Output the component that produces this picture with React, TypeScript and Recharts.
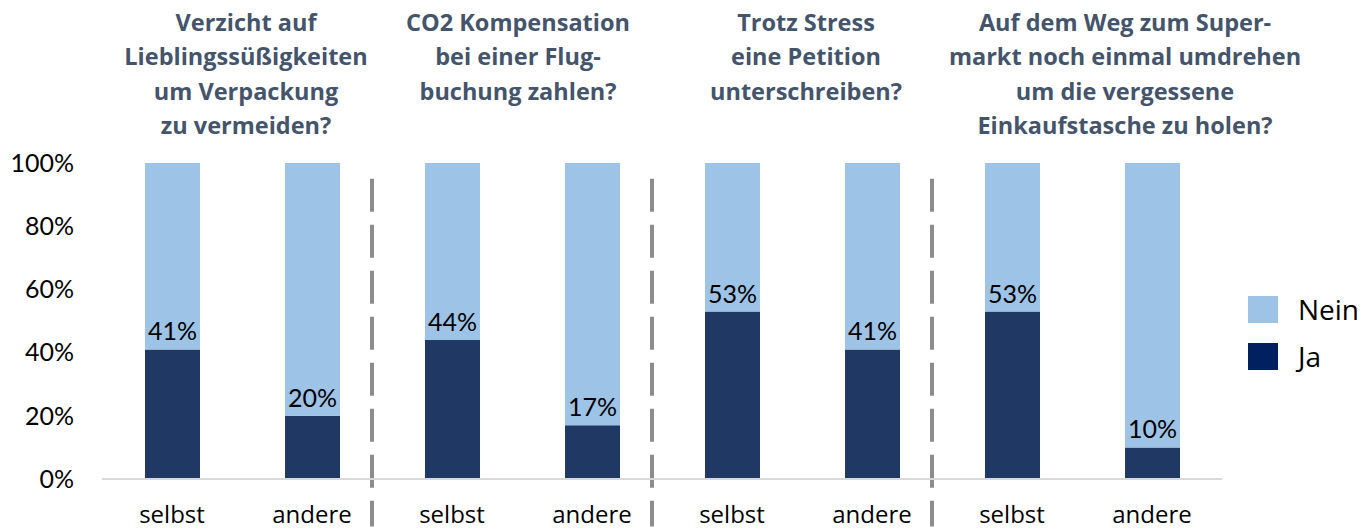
import { BarChart, Bar, XAxis, YAxis, LabelList, ReferenceLine } from 'recharts'

const groups = ['g1', 'g2', 'g3', 'g4']
const respondents = ['selbst', 'andere']
const groupTitles = [
  ['Verzicht auf', 'Lieblingssüßigkeiten', 'um Verpackung', 'zu vermeiden?'],
  ['CO2 Kompensation', 'bei einer Flug-', 'buchung zahlen?'],
  ['Trotz Stress', 'eine Petition', 'unterschreiben?'],
  ['Auf dem Weg zum Super-', 'markt noch einmal umdrehen', 'um die vergessene', 'Einkaufstasche zu holen?'],
]
const jaValues = [41, 20, 44, 17, 53, 41, 53, 10]
const neinValues = [59, 80, 56, 83, 47, 59, 47, 90]
const yTicks = [0, 20, 40, 60, 80, 100]

const JA = '#203864'
const NEIN = '#9DC3E6'
const TITLE = '#44546A'
const NUM_FONT = 'Lato, "Open Sans", sans-serif'
const TEXT_FONT = '"Open Sans", "Noto Sans", sans-serif'

const data = groups.flatMap((g, gi) =>
  respondents.map((r, ri) => ({
    id: `${g}-${r}`,
    group: gi,
    who: r,
    ja: jaValues[gi * 2 + ri],
    nein: neinValues[gi * 2 + ri],
  })),
)

// last title box sits a bit right of its pair in the original
const titleShift = [4, -4, 4, 43]

function TitleTick(props: any) {
  const { x, payload, index } = props
  if (index % 2 !== 0) return null
  const gi = index / 2
  const half = payload?.offset ?? 70
  const cx = x + half + titleShift[gi]
  return (
    <text textAnchor="middle" fill={TITLE} fontFamily={TEXT_FONT} fontWeight={700} fontSize={23.5}>
      {groupTitles[gi].map((line, i) => (
        <tspan key={i} x={cx} y={31 + i * 34.3}>
          {line}
        </tspan>
      ))}
    </text>
  )
}

const DIVIDER_SHIFT = 60

function Divider(p: any) {
  return (
    <line
      x1={p.x1 + DIVIDER_SHIFT}
      x2={p.x2 + DIVIDER_SHIFT}
      y1={p.y1}
      y2={p.y2}
      stroke="#8c8c8c"
      strokeWidth={4}
      strokeDasharray="33 13"
    />
  )
}

export default function App() {
  return (
    <div style={{ position: 'absolute', left: 0, top: 0, width: 1362, height: 529, background: '#fff' }}>
      <BarChart width={1362} height={529} data={data} margin={{ top: 13, right: 140, bottom: 0, left: 0 }} barSize={55}>
        <XAxis
          xAxisId="top"
          orientation="top"
          dataKey="id"
          height={150}
          axisLine={false}
          tickLine={false}
          interval={0}
          tick={<TitleTick />}
        />
        <XAxis
          dataKey="id"
          height={50}
          interval={0}
          tickLine={false}
          tickSize={0}
          tickMargin={27}
          axisLine={{ stroke: '#d9d9d9', strokeWidth: 2 }}
          tickFormatter={(v: string) => v.split('-')[1]}
          tick={{ fill: '#000', fontSize: 24, fontFamily: TEXT_FONT }}
        />
        <YAxis
          width={102}
          domain={[0, 100]}
          ticks={yTicks}
          axisLine={false}
          tickLine={false}
          tickSize={0}
          tickMargin={28}
          tickFormatter={(v: number) => `${v}%`}
          tick={{ fill: '#000', fontSize: 25, fontFamily: NUM_FONT }}
        />
        <Bar dataKey="ja" stackId="a" fill={JA} isAnimationActive={false}>
          <LabelList
            dataKey="ja"
            position="top"
            offset={9}
            formatter={(v: any) => `${v}%`}
            fill="#000"
            fontSize={25}
            fontFamily={NUM_FONT}
          />
        </Bar>
        <Bar dataKey="nein" stackId="a" fill={NEIN} isAnimationActive={false} />
        {groups.slice(0, 3).map((g) => (
          <ReferenceLine
            key={g}
            ifOverflow="visible"
            segment={[
              { x: `${g}-andere`, y: 95 },
              { x: `${g}-andere`, y: -15 },
            ]}
            shape={<Divider />}
          />
        ))}
      </BarChart>
      <div style={{ position: 'absolute', left: 1248, top: 296, fontFamily: TEXT_FONT, fontSize: 28, color: '#000' }}>
        {[
          { name: 'Nein', color: NEIN },
          { name: 'Ja', color: '#002060' },
        ].map((it) => (
          <div key={it.name} style={{ display: 'flex', alignItems: 'center', height: 27, marginBottom: 20 }}>
            <span style={{ width: 30, height: 27, background: it.color, display: 'inline-block', marginRight: 20 }} />
            <span style={{ lineHeight: '27px' }}>{it.name}</span>
          </div>
        ))}
      </div>
    </div>
  )
}
